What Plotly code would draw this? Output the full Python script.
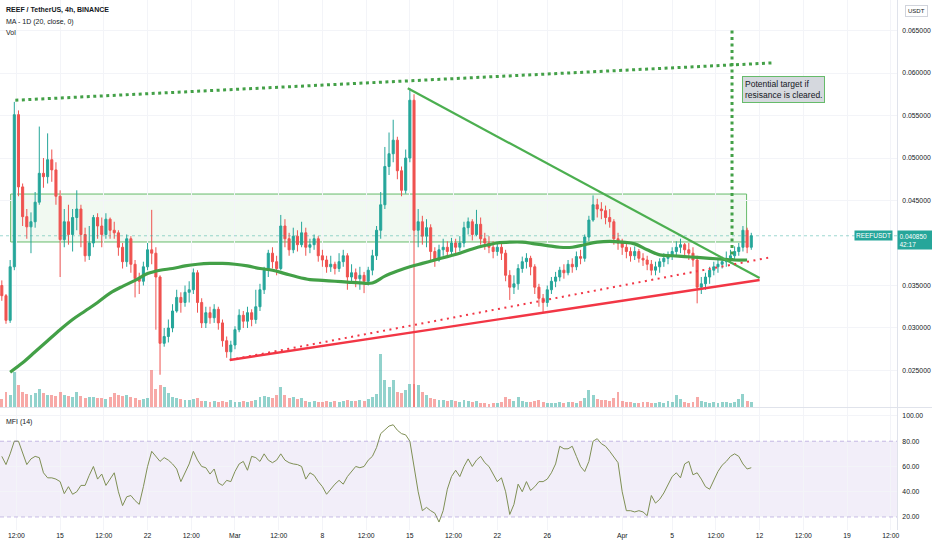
import pandas as pd
import plotly.graph_objects as go

# ---------------- data ----------------
first_open = 0.0350
close = [0.0338,0.0309,0.0372,0.0551,0.0466,0.0431,0.0419,0.0425,0.0448,0.0482,
         0.0478,0.0498,0.0486,0.0455,0.0404,0.0425,0.0410,0.0430,0.0440,0.0410,
         0.0385,0.0400,0.0430,0.0420,0.0410,0.0428,0.0415,0.0412,0.0395,0.0378,
         0.0405,0.0375,0.0358,0.0355,0.0372,0.0392,0.0388,0.0360,0.0282,0.0290,
         0.0300,0.0320,0.0336,0.0330,0.0342,0.0345,0.0365,0.0330,0.0306,0.0318,
         0.0312,0.0322,0.0306,0.0285,0.0272,0.0280,0.0298,0.0315,0.0308,0.0318,
         0.0310,0.0325,0.0345,0.0368,0.0388,0.0378,0.0370,0.0420,0.0405,0.0392,
         0.0408,0.0398,0.0412,0.0395,0.0398,0.0405,0.0385,0.0380,0.0372,0.0375,
         0.0370,0.0378,0.0385,0.0360,0.0365,0.0358,0.0362,0.0355,0.0368,0.0385,
         0.0415,0.0445,0.0490,0.0505,0.0521,0.0485,0.0462,0.0500,0.0568,0.0415,
         0.0425,0.0408,0.0418,0.0390,0.0380,0.0392,0.0395,0.0390,0.0400,0.0395,
         0.0400,0.0418,0.0425,0.0410,0.0422,0.0405,0.0400,0.0395,0.0390,0.0395,
         0.0388,0.0362,0.0348,0.0352,0.0370,0.0378,0.0382,0.0372,0.0348,0.0335,
         0.0330,0.0345,0.0355,0.0360,0.0368,0.0365,0.0375,0.0372,0.0384,0.0382,
         0.0407,0.0427,0.0445,0.0440,0.0438,0.0430,0.0425,0.0405,0.0400,0.0395,
         0.0390,0.0385,0.0390,0.0382,0.0380,0.0375,0.0368,0.0372,0.0378,0.0382,
         0.0385,0.0390,0.0395,0.0398,0.0392,0.0388,0.0380,0.0348,0.0352,0.0360,
         0.0368,0.0372,0.0375,0.0378,0.0382,0.0385,0.0390,0.0395,0.0415,0.0395,
         0.04085]
high = [0.0356,0.0340,0.0380,0.0566,0.0556,0.0470,0.0440,0.0436,0.0460,0.0537,
        0.0500,0.0529,0.0510,0.0495,0.0462,0.0440,0.0445,0.0440,0.0462,0.0445,
        0.0418,0.0420,0.0433,0.0435,0.0430,0.0435,0.0430,0.0425,0.0415,0.0400,
        0.0410,0.0408,0.0380,0.0365,0.0378,0.0400,0.0439,0.0395,0.0362,0.0300,
        0.0310,0.0328,0.0345,0.0342,0.0350,0.0355,0.0370,0.0368,0.0335,0.0325,
        0.0325,0.0328,0.0325,0.0310,0.0290,0.0285,0.0302,0.0322,0.0320,0.0325,
        0.0322,0.0345,0.0352,0.0372,0.0392,0.0395,0.0385,0.0433,0.0428,0.0412,
        0.0418,0.0415,0.0425,0.0418,0.0405,0.0410,0.0408,0.0392,0.0385,0.0385,
        0.0378,0.0388,0.0392,0.0388,0.0375,0.0370,0.0372,0.0366,0.0372,0.0392,
        0.0420,0.0460,0.0513,0.0530,0.0545,0.0525,0.0490,0.0510,0.0582,0.0575,
        0.0440,0.0432,0.0428,0.0422,0.0395,0.0398,0.0405,0.0402,0.0406,0.0405,
        0.0408,0.0425,0.0430,0.0428,0.0439,0.0430,0.0412,0.0408,0.0402,0.0402,
        0.0400,0.0392,0.0368,0.0362,0.0375,0.0384,0.0388,0.0385,0.0375,0.0352,
        0.0340,0.0350,0.0360,0.0366,0.0372,0.0375,0.0380,0.0382,0.0390,0.0392,
        0.0410,0.0432,0.0456,0.0452,0.0448,0.0444,0.0440,0.0428,0.0412,0.0405,
        0.0400,0.0395,0.0396,0.0393,0.0388,0.0385,0.0380,0.0378,0.0382,0.0388,
        0.0390,0.0395,0.0402,0.0405,0.0400,0.0400,0.0395,0.0385,0.0360,0.0365,
        0.0372,0.0378,0.0380,0.0384,0.0390,0.0392,0.0396,0.0400,0.0420,0.0418,
        0.0412]
low = [0.0332,0.0305,0.0306,0.0368,0.0455,0.0420,0.0405,0.0388,0.0418,0.0445,
       0.0465,0.0470,0.0472,0.0445,0.0360,0.0395,0.0398,0.0390,0.0415,0.0395,
       0.0378,0.0380,0.0395,0.0405,0.0395,0.0405,0.0405,0.0405,0.0385,0.0370,
       0.0372,0.0365,0.0336,0.0340,0.0350,0.0368,0.0375,0.0298,0.0245,0.0278,
       0.0283,0.0295,0.0318,0.0318,0.0325,0.0330,0.0340,0.0318,0.0300,0.0300,
       0.0305,0.0306,0.0298,0.0278,0.0265,0.0262,0.0275,0.0295,0.0300,0.0300,
       0.0302,0.0305,0.0320,0.0340,0.0360,0.0370,0.0362,0.0368,0.0395,0.0385,
       0.0388,0.0390,0.0395,0.0385,0.0388,0.0392,0.0378,0.0372,0.0365,0.0366,
       0.0363,0.0366,0.0372,0.0345,0.0355,0.0348,0.0345,0.0341,0.0350,0.0362,
       0.0380,0.0405,0.0440,0.0480,0.0495,0.0475,0.0455,0.0458,0.0495,0.0190,
       0.0395,0.0398,0.0395,0.0378,0.0372,0.0378,0.0385,0.0383,0.0385,0.0388,
       0.0390,0.0395,0.0410,0.0403,0.0408,0.0398,0.0392,0.0388,0.0382,0.0385,
       0.0380,0.0355,0.0333,0.0340,0.0345,0.0365,0.0370,0.0362,0.0340,0.0325,
       0.0318,0.0325,0.0340,0.0348,0.0355,0.0358,0.0362,0.0365,0.0368,0.0375,
       0.0378,0.0402,0.0425,0.0430,0.0428,0.0422,0.0418,0.0398,0.0392,0.0386,
       0.0382,0.0378,0.0380,0.0377,0.0373,0.0368,0.0362,0.0362,0.0365,0.0372,
       0.0375,0.0380,0.0385,0.0388,0.0385,0.0380,0.0372,0.0329,0.0340,0.0345,
       0.0352,0.0362,0.0365,0.0370,0.0372,0.0376,0.0380,0.0385,0.0390,0.0388,
       0.0392]
volume_m = [8,15,12,35,22,15,13,12,14,18,14,12,12,11,15,12,11,10,15,11,
            9,10,10,9,9,8,10,14,12,11,12,10,9,7,8,9,37,18,22,20,
            14,10,9,8,7,7,8,9,6,6,5,6,5,6,5,7,5,5,6,5,
            6,7,10,11,10,9,12,20,12,9,10,8,9,6,5,6,5,5,6,5,
            6,5,6,7,6,6,7,6,8,10,13,53,27,20,27,15,14,17,23,23,
            22,15,12,9,8,7,7,6,7,6,5,7,6,5,6,4,4,3,4,4,
            5,10,8,6,10,6,5,5,6,7,5,4,4,4,5,4,5,5,4,6,
            9,17,12,8,7,7,6,9,15,6,5,5,4,4,5,5,4,4,5,4,
            6,5,12,8,5,4,5,10,6,5,4,5,4,5,5,4,5,8,13,6,5]
mfi = [68,61.5,70,80,80,70,61.5,66,68,67,55,51,51,50,48,38.5,44,38,40,45,
       45,53,60,50,54,45,50,55,40,29,36,37,33,30,44,60,72,68,64,67,
       65,62,58,48,55,62,72,65,60,59,54,58,47,45,49,48,56,62,64,57,
       68,67,64,70,65,63,65,70,65,63,62,61.5,60,50,55,53,48,44,38,42,
       46,49,46,52,56,60,59,60,65,68,75,86,89,92,93,88.7,86,85,80,58,
       40,25,27.6,25,23,16,25,42,52,57,52,60,66,60,65,68,63,60,54,48,
       51,40,22,30,46,40,48,41,44,48,48,50,55,62,76,74,74,76,68,60,
       56,64,80,82,78,76,72,67,63,40,25,25,24,25,24,21,37,31,34,39,
       45,52,55,51,62,64,53.4,55,50,44,42,49,56,61,64,68,70,68,62,58,59]

ma_dates = pd.date_range("2021-02-11", "2021-04-11", freq="D")
ma_1d = [0.0248,0.0259,0.0272,0.0285,0.0298,0.0310,0.0320,0.0330,0.0341,0.0349,
         0.0356,0.0364,0.0368,0.0370,0.0373,0.0375,0.0376,0.0376,0.0375,0.0373,
         0.0370,0.0368,0.0364,0.0360,0.0357,0.0356,0.0355,0.0354,0.0353,0.0353,
         0.0361,0.0367,0.0372,0.0376,0.0380,0.0384,0.0388,0.0393,0.0397,0.0400,
         0.0401,0.0401,0.0399,0.0397,0.0395,0.0395,0.0398,0.0401,0.0402,0.0401,
         0.0399,0.0392,0.0386,0.0385,0.0384,0.0383,0.0382,0.0381,0.0380,0.0380]

# drawings (time, price)
top_dotted = [("2021-02-11 10:00", 0.0568), ("2021-04-13 05:00", 0.0612)]
target_vertical = [("2021-04-09 19:00", 0.0650), ("2021-04-09 19:00", 0.0378)]
down_trend = [("2021-03-14 20:00", 0.0582), ("2021-04-12 00:00", 0.03588)]
up_trend = [("2021-02-28 14:00", 0.02624), ("2021-04-12 00:00", 0.03565)]
up_dotted = [("2021-02-28 14:00", 0.02624), ("2021-04-13 00:00", 0.03835)]
zone = [("2021-02-11 01:00", 0.04576), ("2021-04-10 23:00", 0.04012)]
note_pos = ("2021-04-10 15:00", 0.0596)

x_tick_dates = ["2021-02-11 12:00","2021-02-15","2021-02-18 12:00","2021-02-22",
                "2021-02-25 12:00","2021-03-01","2021-03-04 12:00","2021-03-08",
                "2021-03-11 12:00","2021-03-15","2021-03-18 12:00","2021-03-22",
                "2021-03-26","2021-04-01","2021-04-05","2021-04-08 12:00",
                "2021-04-12","2021-04-15 12:00","2021-04-19","2021-04-22 12:00"]
x_tick_text = ["12:00","15","12:00","22","12:00","Mar","12:00","8","12:00","15",
               "12:00","22","26","Apr","5","12:00","12","12:00","19","12:00"]
# 0.040000 sits under the last-price box in the reference, so it is not labelled
price_ticks = [0.025,0.030,0.035,0.045,0.050,0.055,0.060,0.065]
mfi_ticks = [20,40,60,80,100]

# ---------------- figure ----------------
times = pd.date_range("2021-02-10 08:00", periods=len(close), freq="8h")
opens = [first_open] + close[:-1]
UP, DN = "#26a69a", "#ef5350"
vol_colors = ["rgba(38,166,154,0.5)" if c >= o else "rgba(239,83,80,0.5)"
              for o, c in zip(opens, close)]

fig = go.Figure()
fig.add_trace(go.Bar(x=times, y=volume_m, marker_color=vol_colors,
                     marker_line_width=0, yaxis="y3", xaxis="x",
                     hoverinfo="skip", width=8*3600*1000*0.7))
fig.add_trace(go.Candlestick(x=times, open=opens, high=high, low=low, close=close,
                             increasing=dict(line=dict(color=UP, width=1), fillcolor=UP),
                             decreasing=dict(line=dict(color=DN, width=1), fillcolor=DN),
                             whiskerwidth=0, yaxis="y", xaxis="x"))
fig.add_trace(go.Scatter(x=ma_dates, y=ma_1d, mode="lines",
                         line=dict(color="#43a047", width=3.2, shape="spline"),
                         yaxis="y", xaxis="x", hoverinfo="skip"))
fig.add_trace(go.Scatter(x=times, y=mfi, mode="lines",
                         line=dict(color="#7f8f55", width=1),
                         yaxis="y2", xaxis="x", hoverinfo="skip"))

def seg(pts, color, width, dash="solid"):
    (x0, y0), (x1, y1) = pts
    fig.add_shape(type="line", xref="x", yref="y", x0=x0, y0=y0, x1=x1, y1=y1,
                  line=dict(color=color, width=width, dash=dash), layer="above")

fig.add_shape(type="rect", xref="x", yref="y",
              x0=zone[0][0], y0=zone[0][1], x1=zone[1][0], y1=zone[1][1],
              line=dict(color="#66bb6a", width=1), fillcolor="rgba(76,175,80,0.08)",
              layer="below")
seg(top_dotted, "#43a047", 3, "3px,3.5px")
seg(target_vertical, "#43a047", 3, "3px,3.5px")
seg(down_trend, "#4caf50", 2.2)
seg(up_trend, "#f23645", 2.4)
seg(up_dotted, "#f23645", 2, "2px,4.5px")

last_price = close[-1]
fig.add_shape(type="line", xref="paper", yref="y", x0=0, x1=1, y0=last_price, y1=last_price,
              line=dict(color="rgba(38,166,154,0.45)", width=1, dash="dot"))

fig.add_shape(type="rect", xref="paper", yref="y2", x0=0, x1=1, y0=20, y1=80,
              fillcolor="rgba(126,87,194,0.1)", line=dict(width=0), layer="below")
for lvl in (20, 80):
    fig.add_shape(type="line", xref="paper", yref="y2", x0=0, x1=1, y0=lvl, y1=lvl,
                  line=dict(color="rgba(126,87,194,0.4)", width=1, dash="4px,3px"))

fig.add_shape(type="line", xref="paper", yref="paper", x0=0, x1=1.04, y0=0.2311, y1=0.2311,
              line=dict(color="#e0e3eb", width=1))

FONT = "Liberation Sans"
TXT = "#131722"
ann = []
ann.append(dict(xref="paper", yref="paper", x=0.004, y=0.981, xanchor="left", yanchor="middle",
                text="<b>REEF / TetherUS, 4h, BINANCE</b>", showarrow=False,
                font=dict(size=7, color=TXT, family=FONT)))
ann.append(dict(xref="paper", yref="paper", x=0.004, y=0.959, xanchor="left", yanchor="middle",
                text="MA - 1D (20, close, 0)", showarrow=False,
                font=dict(size=7, color=TXT, family=FONT)))
ann.append(dict(xref="paper", yref="paper", x=0.004, y=0.938, xanchor="left", yanchor="middle",
                text="Vol", showarrow=False, font=dict(size=7, color=TXT, family=FONT)))
ann.append(dict(xref="paper", yref="paper", x=0.004, y=0.204, xanchor="left", yanchor="middle",
                text="MFI (14)", showarrow=False, font=dict(size=7, color=TXT, family=FONT)))
ann.append(dict(xref="x", yref="y", x=note_pos[0], y=note_pos[1], xanchor="left", yanchor="top",
                text="Potential target if<br>resisance is cleared.", showarrow=False, align="left",
                bgcolor="#d5d8de", bordercolor="#66bb6a", borderwidth=1, borderpad=2,
                font=dict(size=8.5, color=TXT, family=FONT)))
ann.append(dict(xref="paper", yref="y", x=0.996, y=last_price, xanchor="right", yanchor="middle",
                text="REEFUSDT", showarrow=False, bgcolor=UP, borderpad=1,
                font=dict(size=6.5, color="white", family=FONT)))
ann.append(dict(xref="paper", yref="y", x=1.0, y=last_price, xanchor="left", yanchor="top",
                yshift=6, text=f"{last_price:.6f}<br>42:17", showarrow=False, bgcolor=UP,
                width=32, align="left", borderpad=1.5,
                font=dict(size=6.5, color="white", family=FONT)))
ann.append(dict(xref="paper", yref="paper", x=1.009, y=0.979, xanchor="left", yanchor="middle",
                text="USDT", showarrow=False, bordercolor="#d1d4dc", borderwidth=1, borderpad=2,
                font=dict(size=6, color=TXT, family=FONT)))

tickfont = dict(size=6.8, color=TXT, family=FONT)
fig.update_layout(
    width=932, height=550, margin=dict(l=0, r=35, t=0, b=20, autoexpand=False),
    paper_bgcolor="white", plot_bgcolor="white", showlegend=False,
    font=dict(family=FONT, size=7, color=TXT),
    annotations=ann,
    xaxis=dict(type="date", range=["2021-02-10 04:30", "2021-04-23 00:00"],
               anchor="y2", rangeslider=dict(visible=False), tickvals=x_tick_dates,
               ticktext=x_tick_text, showgrid=True, gridcolor="#f3f4f8", zeroline=False,
               ticks="", tickfont=tickfont, showline=False, automargin=False),
    yaxis=dict(domain=[0.2321, 1.0], range=[0.020706, 0.06859], side="right",
               tickvals=price_ticks, tickformat=".6f", showgrid=True, gridcolor="#f3f4f8",
               zeroline=False, ticks="", showline=True, linecolor="#e0e3eb",
               tickfont=tickfont, anchor="x", automargin=False, ticklabelstandoff=3),
    yaxis2=dict(domain=[0.0, 0.2302], range=[9.7, 106.3], side="right", tickvals=mfi_ticks,
                tickformat=".2f", showgrid=True, gridcolor="#f3f4f8", zeroline=False, ticks="",
                showline=True, linecolor="#e0e3eb", tickfont=tickfont,
                anchor="x", automargin=False, ticklabelstandoff=3),
    yaxis3=dict(overlaying="y", range=[0, 407], visible=False, anchor="x"),
    bargap=0,
)

fig.write_html("out.html", config={"displayModeBar": False},
               post_script="document.body.style.margin='0px';document.body.style.overflow='hidden';")
